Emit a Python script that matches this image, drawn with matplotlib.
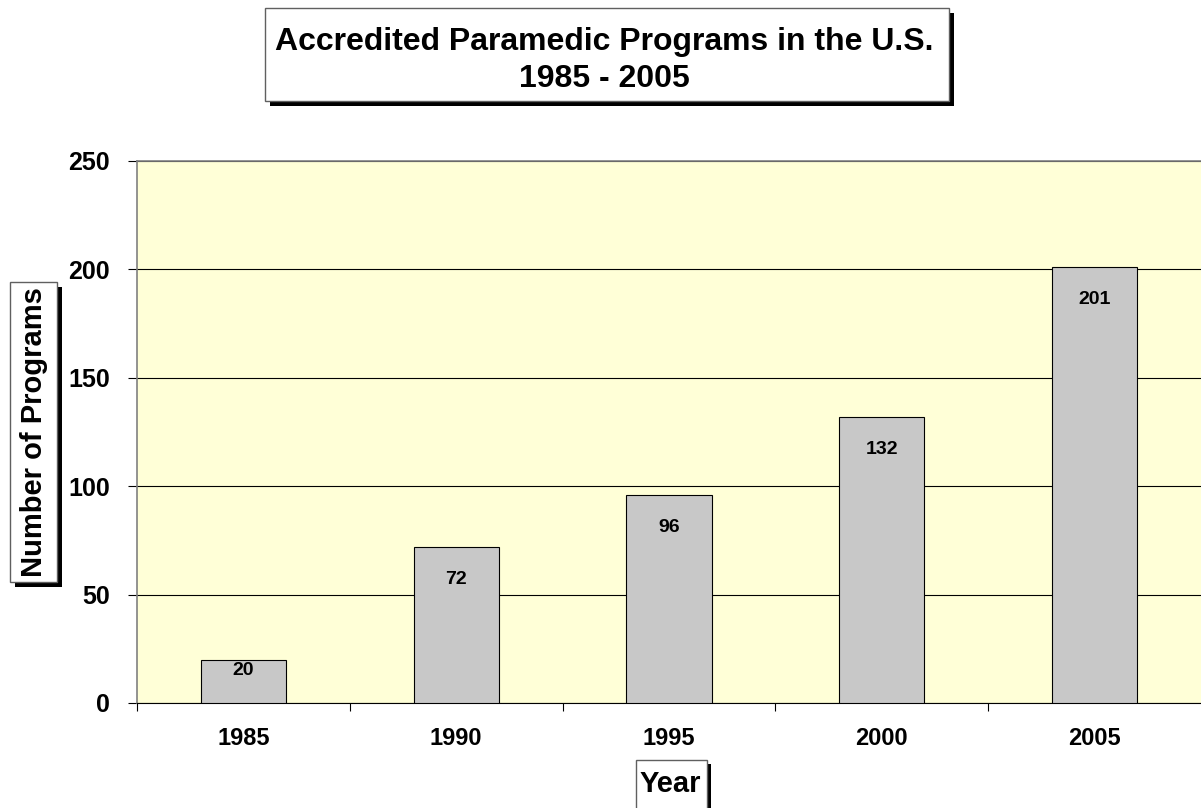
import matplotlib
matplotlib.use("Agg")
import matplotlib.pyplot as plt
from matplotlib.patches import Rectangle
import numpy as np

years = ["1985", "1990", "1995", "2000", "2005"]
programs = [20, 72, 96, 132, 201]

plt.rcParams['font.family'] = ['Liberation Sans', 'DejaVu Sans']
plt.rcParams['font.weight'] = 'bold'

W, H = 1201, 808
fig = plt.figure(figsize=(W / 100, H / 100), dpi=100)
ax = fig.add_axes([137 / W, 1 - 703 / H, 1 - 137 / W, (703 - 161) / H])
ax.set_facecolor('#FFFFD7')

x = np.arange(len(years))
ax.bar(x, programs, width=0.4, color='#C8C8C8', edgecolor='black', linewidth=0.8, zorder=3)
for xi, v in zip(x, programs):
    ax.text(xi, max(v - 15, v * 0.76), str(v), ha='center', va='center',
            fontsize=14, fontweight='bold', zorder=4)

ax.set_xlim(-0.5, len(years) - 0.5)
ax.set_ylim(0, 250)
ax.set_yticks(range(0, 251, 50))
ax.set_yticklabels([str(t) for t in range(0, 251, 50)], fontsize=18, fontweight='bold')
ax.set_xticks(x)
ax.set_xticklabels(years, fontsize=17, fontweight='bold')
ax.tick_params(axis='x', which='major', length=0, pad=17.5)
ax.set_xticks(np.arange(-0.5, len(years) - 0.5), minor=True)
ax.tick_params(axis='x', which='minor', length=6, width=0.8, color='black')
ax.tick_params(axis='y', length=6.5, width=0.8, color='black', pad=13)

ax.yaxis.grid(True, color='black', linewidth=0.8, zorder=1)
ax.set_axisbelow(True)
for s in ['left', 'top']:
    ax.spines[s].set_color('#808080')
    ax.spines[s].set_linewidth(1.2)
ax.spines['right'].set_visible(False)
ax.spines['bottom'].set_color('black')


def box(x0, y0, x1, y1, sh=5):
    # shadow then white frame, given in pixels from top-left
    fig.add_artist(Rectangle((x0 / W + sh / W, 1 - (y1 + sh) / H), (x1 - x0) / W, (y1 - y0) / H,
                             transform=fig.transFigure, facecolor='black', edgecolor='none'))
    fig.add_artist(Rectangle((x0 / W, 1 - y1 / H), (x1 - x0) / W, (y1 - y0) / H,
                             transform=fig.transFigure, facecolor='white', edgecolor='#606060',
                             linewidth=1.0))


box(265, 8, 949, 101)
fig.text(604 / W, 1 - 42 / H, "Accredited Paramedic Programs in the U.S.", ha='center', va='center',
         fontsize=23, fontweight='bold')
fig.text(604 / W, 1 - 79 / H, "1985 - 2005", ha='center', va='center',
         fontsize=23, fontweight='bold')

box(10, 282, 57, 582)
fig.text(34 / W, 1 - 432 / H, "Number of Programs", ha='center', va='center', rotation=90,
         fontsize=21, fontweight='bold')

box(636, 760, 707, 812, sh=4)
fig.text(670 / W, 1 - 784 / H, "Year", ha='center', va='center', fontsize=21, fontweight='bold')

fig.savefig("out.png", dpi=100)
